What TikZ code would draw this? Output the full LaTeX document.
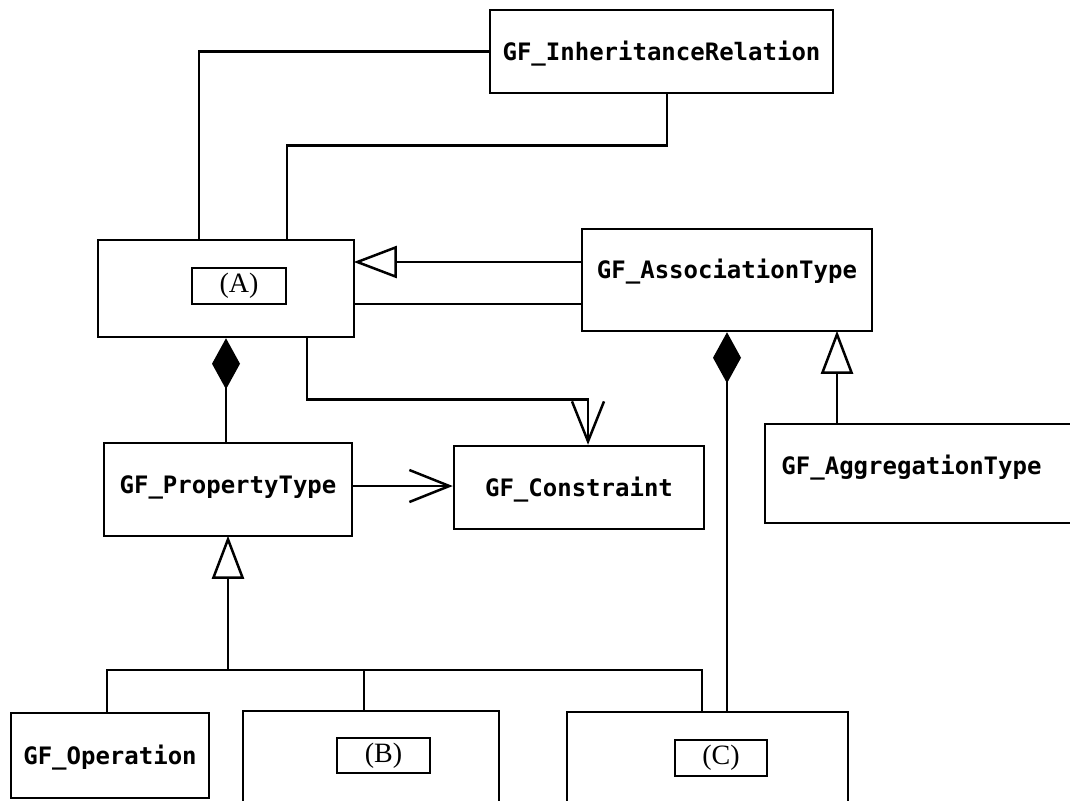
\documentclass[tikz,border=0pt]{standalone}
\usepackage{fontspec}
\setmainfont{Liberation Serif}
\newfontfamily\gf{DejaVu Sans Mono}
\usetikzlibrary{arrows.meta}
\begin{document}
\begin{tikzpicture}[x=1pt,y=-1pt, line width=2.5pt,
  box/.style={draw, rectangle, inner sep=0pt, font=\gf\bfseries\fontsize{24}{28}\selectfont, text height=17.5pt, text depth=0pt},
  inbox/.style={draw, rectangle, inner sep=0pt, line width=2.5pt, font=\fontsize{28}{30}\selectfont},
  gen/.style={-{Triangle[open,length=43pt,width=32pt]}, shorten >=-1.5pt},
  comp/.style={{Diamond[length=51pt,width=28pt]}-},
  dep/.style={-{Straight Barb[length=40pt,width=32pt]}}]
\useasboundingbox (0,0) rectangle (1070,800);
\clip (0,0) rectangle (1070,800);
\node[box, minimum width=343pt, minimum height=83pt] (inh) at (661.5,51.5) {GF\_InheritanceRelation};
\node[box, minimum width=256pt, minimum height=97pt] (A) at (226,288.5) {};
\node[inbox, minimum width=94pt, minimum height=36pt] (Ain) at (239,286) {\raisebox{-2pt}{(A)}};
\node[box, minimum width=290pt, minimum height=102pt] (assoc) at (727,280) {\raisebox{10pt}{GF\_AssociationType}};
\node[box, minimum width=248pt, minimum height=93pt] (prop) at (228,489.5) {\raisebox{4.5pt}{GF\_PropertyType}};
\node[box, minimum width=250pt, minimum height=83pt] (cons) at (579,487.5) {GF\_Constraint};
\node[box, minimum width=340pt, minimum height=99pt] (agg) at (935,473.5) {\hspace*{-47pt}\raisebox{8pt}{GF\_AggregationType}};
\node[box, minimum width=198pt, minimum height=85pt] (op) at (110,755.5) {GF\_Operation};
\node[box, minimum width=256pt, minimum height=109pt] (B) at (371,765.5) {};
\node[inbox, minimum width=93pt, minimum height=35pt] (Bin) at (383.5,755.5) {(B)};
\node[box, minimum width=281pt, minimum height=108pt] (C) at (707.5,766) {};
\node[inbox, minimum width=92pt, minimum height=36pt] (Cin) at (721,758) {(C)};
% connectors
\draw (inh.west) -| ([xshift=-27pt]A.north);
\draw ([xshift=5.5pt]inh.south) -- ++(0,51) -| ([xshift=61pt]A.north);
\coordinate (g1) at ([yshift=18pt]assoc.west);
\draw[gen] (g1) -- (g1 -| A.east);
\coordinate (l1) at ([yshift=-24pt]assoc.west);
\draw (l1) -- (l1 -| A.east);
\draw[comp] (A.south) -- (A.south |- prop.north);
\draw[dep] ([xshift=81pt]A.south) -- ++(0,61) -| ([xshift=9pt]cons.north);
\coordinate (p1) at ([yshift=3.5pt]prop.east);
\draw[dep] (p1) -- (p1 -| cons.west);
\draw[comp] (assoc.south) -- (assoc.south |- C.north);
\coordinate (a1) at ([xshift=-98pt]agg.north);
\draw[gen] (a1) -- (a1 |- assoc.south);
\coordinate (j) at (228,670);
\draw[gen] (j) -- (prop.south);
\draw ([xshift=-3pt]op.north) |- (j) -| ([xshift=-5.5pt]C.north);
\coordinate (bt) at ([xshift=-7pt]B.north);
\draw (bt) -- (bt |- j);
\end{tikzpicture}
\end{document}
